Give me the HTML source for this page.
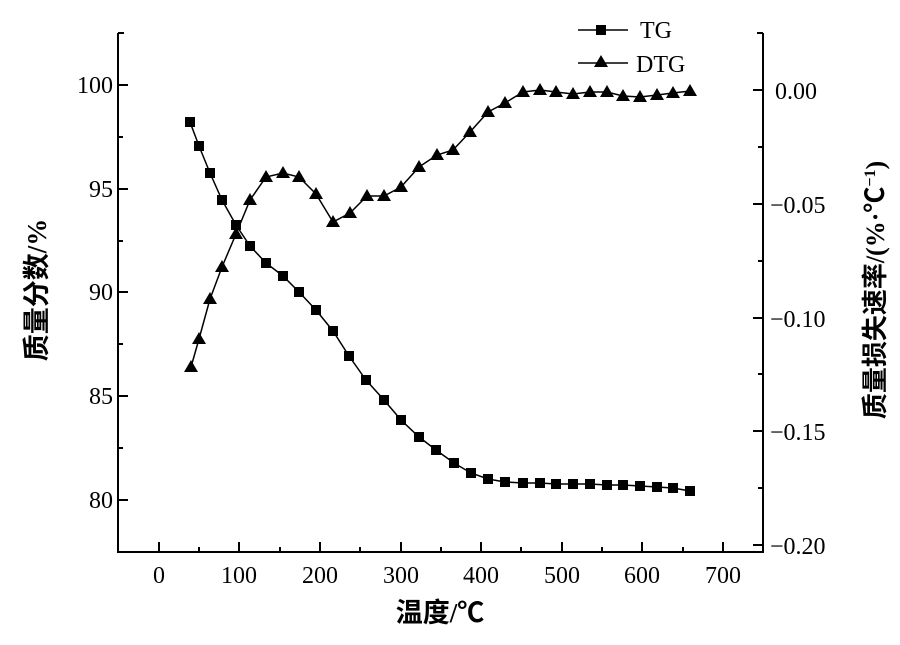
<!DOCTYPE html>
<html><head><meta charset="utf-8"><style>
html,body{margin:0;padding:0;background:#fff;}
svg text{font-family:"Liberation Serif","Noto Serif CJK SC",serif;fill:#000;}
.t{font-family:"Liberation Serif","Noto Sans CJK SC",sans-serif;font-weight:bold;}
</style></head><body>
<svg width="900" height="640" viewBox="0 0 900 640" xmlns="http://www.w3.org/2000/svg">
<g stroke="#000" stroke-width="2" fill="none">
<polyline points="118,33 118,552 763,552 763,33"/>
<line x1="118" y1="33" x2="124" y2="33"/><line x1="763" y1="33" x2="757" y2="33"/>
<line x1="118" y1="85" x2="128" y2="85"/><line x1="118" y1="189" x2="128" y2="189"/>
<line x1="118" y1="292" x2="128" y2="292"/><line x1="118" y1="396" x2="128" y2="396"/>
<line x1="118" y1="500" x2="128" y2="500"/>
<line x1="118" y1="137" x2="123" y2="137"/><line x1="118" y1="241" x2="123" y2="241"/>
<line x1="118" y1="344" x2="123" y2="344"/><line x1="118" y1="448" x2="123" y2="448"/>
<line x1="763" y1="90" x2="753" y2="90"/><line x1="763" y1="204" x2="753" y2="204"/>
<line x1="763" y1="318" x2="753" y2="318"/><line x1="763" y1="431" x2="753" y2="431"/>
<line x1="763" y1="545" x2="753" y2="545"/>
<line x1="763" y1="147" x2="758" y2="147"/><line x1="763" y1="261" x2="758" y2="261"/>
<line x1="763" y1="374" x2="758" y2="374"/><line x1="763" y1="488" x2="758" y2="488"/>
<line x1="159" y1="552" x2="159" y2="542"/><line x1="239" y1="552" x2="239" y2="542"/>
<line x1="320" y1="552" x2="320" y2="542"/><line x1="401" y1="552" x2="401" y2="542"/>
<line x1="481" y1="552" x2="481" y2="542"/><line x1="562" y1="552" x2="562" y2="542"/>
<line x1="642" y1="552" x2="642" y2="542"/><line x1="723" y1="552" x2="723" y2="542"/>
<line x1="199" y1="552" x2="199" y2="547"/><line x1="280" y1="552" x2="280" y2="547"/>
<line x1="360" y1="552" x2="360" y2="547"/><line x1="441" y1="552" x2="441" y2="547"/>
<line x1="521" y1="552" x2="521" y2="547"/><line x1="602" y1="552" x2="602" y2="547"/>
<line x1="683" y1="552" x2="683" y2="547"/>
</g>
<g font-size="24">
<g text-anchor="end">
<text x="113" y="93">100</text><text x="113" y="197">95</text><text x="113" y="300">90</text>
<text x="113" y="404">85</text><text x="113" y="508">80</text>
</g>
<g text-anchor="start">
<text x="775" y="99">0.00</text><text x="770" y="213">−0.05</text><text x="770" y="327">−0.10</text>
<text x="770" y="440">−0.15</text><text x="770" y="554">−0.20</text>
</g>
<g text-anchor="middle">
<text x="159" y="583">0</text><text x="239" y="583">100</text><text x="320" y="583">200</text>
<text x="401" y="583">300</text><text x="481" y="583">400</text><text x="562" y="583">500</text>
<text x="642" y="583">600</text><text x="723" y="583">700</text>
</g>
</g>
<text class="t" x="440" y="622" font-size="27" text-anchor="middle">温度/℃</text>
<text class="t" transform="translate(46,290) rotate(-90)" font-size="27" text-anchor="middle">质量分数/%</text>
<text class="t" transform="translate(884,290) rotate(-90)" font-size="26" text-anchor="middle">质量损失速率/(%·℃<tspan font-size="16" dy="-9">−1</tspan><tspan dy="9">)</tspan></text>
<line x1="578" y1="30" x2="628" y2="30" stroke="#000" stroke-width="1.5"/>
<rect x="596" y="25" width="10" height="10" fill="#000"/>
<text x="640" y="38" font-size="24">TG</text>
<line x1="578" y1="63" x2="628" y2="63" stroke="#000" stroke-width="1.5"/>
<polygon points="601,55 608,67 594,67" fill="#000"/>
<text x="636" y="72" font-size="24">DTG</text>
<polyline fill="none" stroke="#000" stroke-width="1.5" points="190,122 199,146 210,173 222,200 236,225 250,246 266,263 283,276 299,292 316,310 333,331 349,356 366,380 384,400 401,420 419,437 436,450 454,463 471,473 488,479 505,482 523,483 540,483 556,484 573,484 590,484 607,485 623,485 640,486 657,487 673,488 690,491"/>
<g fill="#000">
<rect x="185" y="117" width="10" height="10"/><rect x="194" y="141" width="10" height="10"/><rect x="205" y="168" width="10" height="10"/><rect x="217" y="195" width="10" height="10"/><rect x="231" y="220" width="10" height="10"/><rect x="245" y="241" width="10" height="10"/><rect x="261" y="258" width="10" height="10"/><rect x="278" y="271" width="10" height="10"/><rect x="294" y="287" width="10" height="10"/><rect x="311" y="305" width="10" height="10"/><rect x="328" y="326" width="10" height="10"/><rect x="344" y="351" width="10" height="10"/><rect x="361" y="375" width="10" height="10"/><rect x="379" y="395" width="10" height="10"/><rect x="396" y="415" width="10" height="10"/><rect x="414" y="432" width="10" height="10"/><rect x="431" y="445" width="10" height="10"/><rect x="449" y="458" width="10" height="10"/><rect x="466" y="468" width="10" height="10"/><rect x="483" y="474" width="10" height="10"/><rect x="500" y="477" width="10" height="10"/><rect x="518" y="478" width="10" height="10"/><rect x="535" y="478" width="10" height="10"/><rect x="551" y="479" width="10" height="10"/><rect x="568" y="479" width="10" height="10"/><rect x="585" y="479" width="10" height="10"/><rect x="602" y="480" width="10" height="10"/><rect x="618" y="480" width="10" height="10"/><rect x="635" y="481" width="10" height="10"/><rect x="652" y="482" width="10" height="10"/><rect x="668" y="483" width="10" height="10"/><rect x="685" y="486" width="10" height="10"/>
</g>
<polyline fill="none" stroke="#000" stroke-width="1.5" points="191,367 199,339 210,299 222,267 236,234 250,200 266,177 283,173 299,177 316,194 333,222 350,213 367,196 384,196 401,187 419,167 437,155 453,150 470,132 488,112 505,103 523,92 540,90 556,92 573,94 590,92 607,92 623,96 640,97 657,95 673,93 690,91"/>
<g fill="#000">
<path d="M191,360l7,12h-14z M199,332l7,12h-14z M210,292l7,12h-14z M222,260l7,12h-14z M236,227l7,12h-14z M250,193l7,12h-14z M266,170l7,12h-14z M283,166l7,12h-14z M299,170l7,12h-14z M316,187l7,12h-14z M333,215l7,12h-14z M350,206l7,12h-14z M367,189l7,12h-14z M384,189l7,12h-14z M401,180l7,12h-14z M419,160l7,12h-14z M437,148l7,12h-14z M453,143l7,12h-14z M470,125l7,12h-14z M488,105l7,12h-14z M505,96l7,12h-14z M523,85l7,12h-14z M540,83l7,12h-14z M556,85l7,12h-14z M573,87l7,12h-14z M590,85l7,12h-14z M607,85l7,12h-14z M623,89l7,12h-14z M640,90l7,12h-14z M657,88l7,12h-14z M673,86l7,12h-14z M690,84l7,12h-14z"/>
</g>
</svg>
</body></html>
